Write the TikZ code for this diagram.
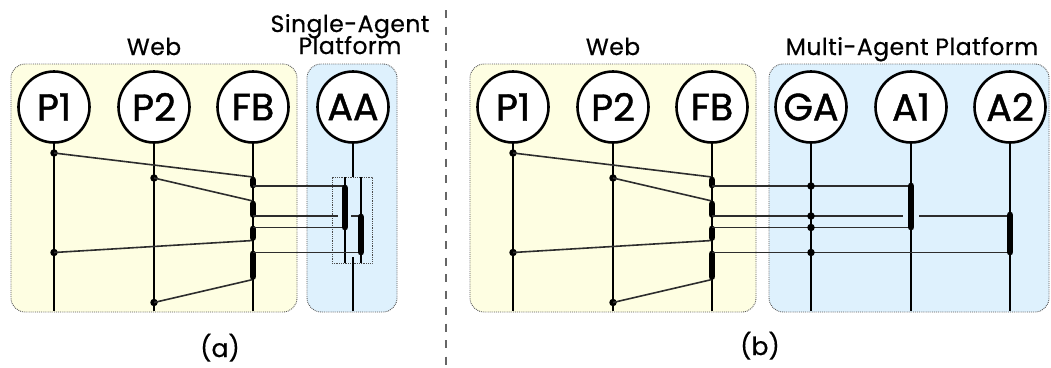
\documentclass[tikz,border=0pt]{standalone}
\usepackage{fontspec}
\setmainfont{Poppins}
\newfontfamily\agentfont[FakeBold=1.2]{Poppins}
\newfontfamily\titlefont[FakeBold=0.6, LetterSpace=2]{Poppins}
\newfontfamily\capfont[FakeBold=0.6]{Poppins}
\usetikzlibrary{calc}

\definecolor{webfill}{RGB}{254,254,226}
\definecolor{mapfill}{RGB}{222,241,253}
\definecolor{msgcol}{RGB}{45,45,45}

\tikzset{
  agent/.style={circle, draw, line width=2.6pt, fill=white, minimum size=71pt,
    inner sep=0pt, font=\agentfont\fontsize{38}{38}\selectfont},
  zone/.style={draw=black!65, densely dotted, line width=0.9pt, rounded corners=14pt,
    inner sep=0pt},
  ttl/.style={font=\titlefont\fontsize{23.5}{23.5}\selectfont, anchor=base, inner sep=0pt},
  captxt/.style={font=\capfont\fontsize{25}{25}\selectfont, anchor=base, inner sep=0pt},
  life/.style={line width=1.5pt, black},
  msg/.style={line width=1.6pt, msgcol},
  act/.style={line width=6.8pt, line cap=round, black},
  evdot/.style={circle, fill=black, inner sep=0pt, minimum size=7.5pt},
  divider/.style={line width=1.8pt, black!60, dash pattern=on 8pt off 8.5pt},
  fork/.style={draw=black!70, densely dotted, line width=0.8pt, inner sep=0pt},
}

% Web side: two pages and the feedback server, shared by both panels
\newcommand\webside{%
  \node[zone, fill=webfill, minimum width=286pt, minimum height=248pt] (web) at (154,188) {};
  \node[ttl] (webttl) at (154,55) {Web};
  \node[agent] (P1) at (54,107) {P1};
  \node[agent] (P2) at (154,107) {P2};
  \node[agent] (FB) at (253,107) {FB};
  \coordinate (P1end) at (54,311);
  \coordinate (P2end) at (154,311);
  \coordinate (FBend) at (253,311);
  \draw[life] (P1) -- (P1end);
  \draw[life] (P2) -- (P2end);
  \draw[life] (FB) -- (FBend);
  % events on the pages
  \node[evdot] (p1e1) at (54,153) {};
  \node[evdot] (p2e1) at (154,178) {};
  \node[evdot] (p1e2) at (54,252.5) {};
  \node[evdot] (p2e2) at (154,302.5) {};
  % activations of the feedback server
  \coordinate (fb1t) at (253,177);   \coordinate (fb1b) at (253,188);
  \coordinate (fb2t) at (253,201);   \coordinate (fb2b) at (253,217.5);
  \coordinate (fb3t) at (253,226);   \coordinate (fb3b) at (253,240.5);
  \coordinate (fb4t) at (253,251);   \coordinate (fb4b) at (253,279.5);
  \draw[msg] (p1e1.center) -- (fb1t);
  \draw[msg] (p2e1.center) -- (fb2t);
  \draw[msg] (p1e2.center) -- (fb3b);
  \draw[msg] (p2e2.center) -- (fb4b);
  \draw[act] ($(fb1t)+(0,3)$) -- ($(fb1b)+(0,-3)$);
  \draw[act] ($(fb2t)+(0,3)$) -- ($(fb2b)+(0,-3)$);
  \draw[act] ($(fb3t)+(0,3)$) -- ($(fb3b)+(0,-3)$);
  \draw[act] ($(fb4t)+(0,3)$) -- ($(fb4b)+(0,-3)$);
  % outgoing points of the forwarded messages
  \coordinate (fbo1) at (253,186);
  \coordinate (fbo2) at (253,216);
  \coordinate (fbo3) at (253,227.5);
  \coordinate (fbo4) at (253,252.5);
}

\begin{document}
\begin{tikzpicture}[x=1pt, y=-1pt]
\useasboundingbox (0,0) rectangle (1051,367);

% ---------------- (a) single-agent platform ----------------
\begin{scope}[name prefix=a-]
  \webside
  \node[zone, fill=mapfill, minimum width=90pt, minimum height=248pt] (sap) at (352,188) {};
  \node[ttl] (sapttl1) at (350,32) {Single-Agent};
  \node[ttl] (sapttl2) at (350,54) {Platform};
  \node[agent] (AA) at (353,107) {AA};
  \node[fork, minimum width=40pt, minimum height=86pt] (fk) at (352,220) {};
  \coordinate (aatop) at (353,177);
  \coordinate (aabot) at (353,257);
  \coordinate (aaend) at (353,311);
  \draw[life] (AA) -- (aatop);
  \draw[life] (aabot) -- (aaend);
  \coordinate (t1top) at (345,177);  \coordinate (t1bot) at (345,263);
  \coordinate (t2top) at (361,177);  \coordinate (t2bot) at (361,263);
  \draw[life] (t1top) -- (t1bot);
  \draw[life] (t2top) -- (t2bot);
  % forwarded messages
  \coordinate (r1) at (345,186);
  \coordinate (g2a) at (338,216);
  \coordinate (g2b) at (351,216);
  \coordinate (r2) at (361,216);
  \coordinate (r3) at (345,227.5);
  \coordinate (r4) at (361,252.5);
  \draw[msg] (fbo1) -- (r1);
  \draw[msg] (fbo2) -- (g2a);
  \draw[msg] (g2b) -- (r2);
  \draw[msg] (fbo3) -- (r3);
  \draw[msg] (fbo4) -- (r4);
  % the two threads of the agent
  \coordinate (b1t) at (345,185);  \coordinate (b1b) at (345,230);
  \coordinate (b2t) at (361,214);  \coordinate (b2b) at (361,255);
  \draw[act] ($(b1t)+(0,3)$) -- ($(b1b)+(0,-3)$);
  \draw[act] ($(b2t)+(0,3)$) -- ($(b2b)+(0,-3)$);
  \node[captxt] (capa) at (220,357) {(a)};
\end{scope}

% panel separator
\coordinate (divtop) at (446,10);
\coordinate (divbot) at (446,367);
\draw[divider] (divtop) -- (divbot);

% ---------------- (b) multi-agent platform ----------------
\begin{scope}[name prefix=b-]
  \begin{scope}[xshift=459pt]
    \webside
  \end{scope}
  \node[zone, fill=mapfill, minimum width=280pt, minimum height=248pt] (map) at (909,188) {};
  \node[ttl] (mapttl) at (912,55) {Multi-Agent Platform};
  \node[agent] (GA) at (811,107) {GA};
  \node[agent] (A1) at (911,107) {A1};
  \node[agent] (A2) at (1010,107) {A2};
  \coordinate (GAend) at (811,311);
  \coordinate (A1end) at (911,311);
  \coordinate (A2end) at (1010,311);
  \draw[life] (GA) -- (GAend);
  \draw[life] (A1) -- (A1end);
  \draw[life] (A2) -- (A2end);
  % forwarded messages, observed by the gateway agent
  \coordinate (s1) at (911,186);
  \coordinate (g2a) at (903,216);
  \coordinate (g2b) at (919,216);
  \coordinate (s2) at (1010,216);
  \coordinate (s3) at (911,227.5);
  \coordinate (s4) at (1010,252.5);
  \draw[msg] (fbo1) -- (s1);
  \draw[msg] (fbo2) -- (g2a);
  \draw[msg] (g2b) -- (s2);
  \draw[msg] (fbo3) -- (s3);
  \draw[msg] (fbo4) -- (s4);
  \node[evdot] (ga1) at (811,186) {};
  \node[evdot] (ga2) at (811,216) {};
  \node[evdot] (ga3) at (811,227.5) {};
  \node[evdot] (ga4) at (811,252.5) {};
  \coordinate (c1t) at (911,183);   \coordinate (c1b) at (911,230);
  \coordinate (c2t) at (1010,212);  \coordinate (c2b) at (1010,255);
  \draw[act] ($(c1t)+(0,3)$) -- ($(c1b)+(0,-3)$);
  \draw[act] ($(c2t)+(0,3)$) -- ($(c2b)+(0,-3)$);
  \node[captxt] (capb) at (760,355) {(b)};
\end{scope}
\end{tikzpicture}
\end{document}
